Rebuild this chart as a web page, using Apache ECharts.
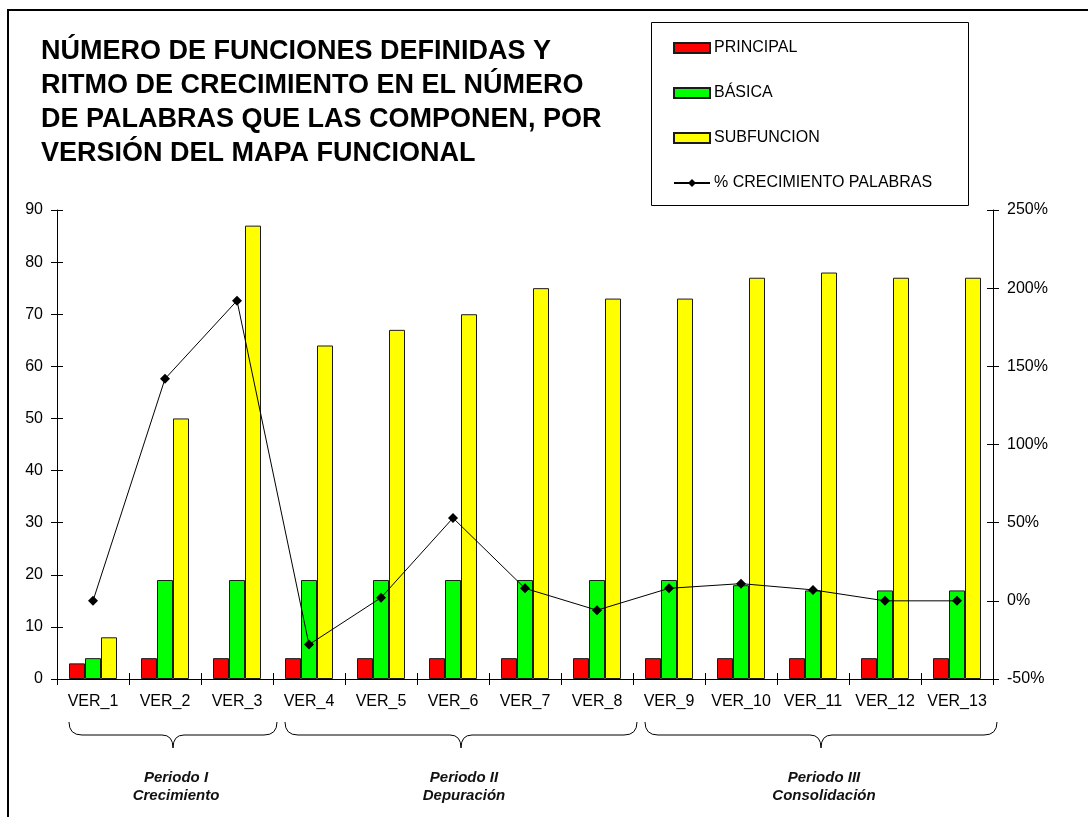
<!DOCTYPE html>
<html>
<head>
<meta charset="utf-8">
<script src="https://cdn.jsdelivr.net/npm/echarts@6/dist/echarts.min.js"></script>
<style>
  html, body { margin: 0; padding: 0; background: #ffffff; }
  #chart { width: 1088px; height: 817px; }
</style>
</head>
<body>
<div id="chart"></div>
<script>
// Versions of the functional map
const versions = ['VER_1', 'VER_2', 'VER_3', 'VER_4', 'VER_5', 'VER_6', 'VER_7',
                  'VER_8', 'VER_9', 'VER_10', 'VER_11', 'VER_12', 'VER_13'];

// Number of functions defined, by type
const principal  = [3, 4, 4, 4, 4, 4, 4, 4, 4, 4, 4, 4, 4];
const basica     = [4, 19, 19, 19, 19, 19, 19, 19, 19, 18, 17, 17, 17];
const subfuncion = [8, 50, 87, 64, 67, 70, 75, 73, 73, 77, 78, 77, 77];

// Growth rate (%) in the number of words
const crecimientoPalabras = [0, 142, 192, -28, 2, 53, 8, -6, 8, 11, 7, 0, 0];

// Axis scales
const countAxis = { min: 0, max: 90, interval: 10 };
const pctAxis = { min: -50, max: 250, interval: 50 };

// Periods grouping the versions
const periods = [
  { label: 'Periodo I',   phase: 'Crecimiento',   first: 0, last: 2 },
  { label: 'Periodo II',  phase: 'Depuración',    first: 3, last: 7 },
  { label: 'Periodo III', phase: 'Consolidación', first: 8, last: 12 }
];

const titleLines = [
  'NÚMERO DE FUNCIONES DEFINIDAS Y',
  'RITMO DE CRECIMIENTO EN EL NÚMERO',
  'DE PALABRAS QUE LAS COMPONEN, POR',
  'VERSIÓN DEL MAPA FUNCIONAL'
];

const FONT = '"Liberation Sans", Arial, Helvetica, sans-serif';
const INK = '#000000';
const BAR_EDGE = '#1a1a1a';

const chart = echarts.init(document.getElementById('chart'), null, { renderer: 'canvas' });

const tickOut = { show: true, inside: false, length: 6, lineStyle: { color: INK, width: 1 } };
const tickIn  = { show: true, inside: true,  length: 6, lineStyle: { color: INK, width: 1 } };
const axisLineStyle = { show: true, onZero: false, lineStyle: { color: INK, width: 1 } };

function barSeries(name, data, color) {
  return {
    name: name,
    type: 'bar',
    xAxisIndex: 0,
    yAxisIndex: 0,
    data: data,
    barGap: '0%',
    barCategoryGap: '33.3%',
    itemStyle: { color: color, borderColor: BAR_EDGE, borderWidth: 1 },
    emphasis: { disabled: true },
    z: 2
  };
}

chart.setOption({
  animation: false,
  backgroundColor: '#ffffff',
  textStyle: { fontFamily: FONT },
  title: {
    text: titleLines.join('\n'),
    left: 41,
    top: 35,
    padding: 0,
    textStyle: {
      fontFamily: FONT,
      fontSize: 27,
      fontWeight: 'bold',
      color: INK,
      lineHeight: 34
    }
  },
  legend: {
    orient: 'vertical',
    left: 673,
    top: 39,
    padding: 0,
    itemWidth: 36,
    itemHeight: 10,
    itemGap: 27,
    selectedMode: false,
    textStyle: { fontFamily: FONT, fontSize: 16, color: INK, lineHeight: 18, padding: [0, 0, 0, -1] },
    data: [
      { name: 'PRINCIPAL', icon: 'rect' },
      { name: 'BÁSICA', icon: 'rect' },
      { name: 'SUBFUNCION', icon: 'rect' },
      { name: '% CRECIMIENTO PALABRAS' }
    ]
  },
  grid: { left: 57, right: 95, top: 210, bottom: 138, containLabel: false },
  xAxis: [
    {
      type: 'category',
      data: versions,
      position: 'bottom',
      boundaryGap: true,
      axisLine: axisLineStyle,
      axisTick: tickOut,
      axisLabel: { fontFamily: FONT, fontSize: 16, color: INK, margin: 15, interval: 0 },
      splitLine: { show: false }
    },
    {
      type: 'category',
      data: versions,
      position: 'bottom',
      boundaryGap: true,
      axisLine: { show: false, onZero: false },
      axisTick: tickIn,
      axisLabel: { show: false },
      splitLine: { show: false }
    }
  ],
  yAxis: [
    {
      type: 'value',
      position: 'left',
      min: countAxis.min, max: countAxis.max, interval: countAxis.interval,
      axisLine: axisLineStyle,
      axisTick: tickOut,
      axisLabel: { fontFamily: FONT, fontSize: 16, color: INK, margin: 14 },
      splitLine: { show: false }
    },
    {
      type: 'value',
      position: 'right',
      min: pctAxis.min, max: pctAxis.max, interval: pctAxis.interval,
      axisLine: axisLineStyle,
      axisTick: tickOut,
      axisLabel: { fontFamily: FONT, fontSize: 16, color: INK, margin: 14, formatter: '{value}%' },
      splitLine: { show: false }
    },
    {
      type: 'value',
      position: 'left',
      min: countAxis.min, max: countAxis.max, interval: countAxis.interval,
      axisLine: { show: false, onZero: false },
      axisTick: tickIn,
      axisLabel: { show: false },
      splitLine: { show: false }
    },
    {
      type: 'value',
      position: 'right',
      min: pctAxis.min, max: pctAxis.max, interval: pctAxis.interval,
      axisLine: { show: false, onZero: false },
      axisTick: tickIn,
      axisLabel: { show: false },
      splitLine: { show: false }
    }
  ],
  series: [
    barSeries('PRINCIPAL', principal, '#ff0000'),
    barSeries('BÁSICA', basica, '#00ff00'),
    barSeries('SUBFUNCION', subfuncion, '#ffff00'),
    {
      name: '% CRECIMIENTO PALABRAS',
      type: 'line',
      xAxisIndex: 0,
      yAxisIndex: 1,
      data: crecimientoPalabras,
      symbol: 'diamond',
      symbolSize: 10,
      showSymbol: true,
      lineStyle: { color: INK, width: 1 },
      itemStyle: { color: INK, borderColor: INK, borderWidth: 0 },
      emphasis: { disabled: true },
      z: 5
    }
  ]
});

// Outer frame, legend box and the period braces below the category axis
function drawDecorations() {
  const px = (i) => chart.convertToPixel({ xAxisIndex: 0 }, i);
  const band = px(1) - px(0);
  const axisY = chart.convertToPixel({ yAxisIndex: 0 }, 0);
  const stroke = { stroke: INK, lineWidth: 1, fill: null };
  const els = [
    {
      type: 'rect',
      shape: { x: 8, y: 10, width: 1200, height: 1000 },
      style: { stroke: INK, lineWidth: 2, fill: null },
      silent: true, z: 10
    },
    {
      type: 'rect',
      shape: { x: 651.5, y: 22.5, width: 317, height: 183 },
      style: { stroke: INK, lineWidth: 1, fill: null },
      silent: true, z: 10
    }
  ];
  const top = axisY + 43, mid = axisY + 56, tip = axisY + 69;
  const r = 13, r2 = 11;
  periods.forEach((p) => {
    const x0 = px(p.first) - band / 2 + 12;
    const x1 = px(p.last) + band / 2 + 4;
    const cx = (x0 + x1) / 2;
    els.push(
      { type: 'bezierCurve', shape: { x1: x0, y1: top, cpx1: x0, cpy1: mid, x2: x0 + r, y2: mid }, style: stroke, silent: true },
      { type: 'line', shape: { x1: x0 + r, y1: mid, x2: cx - r2, y2: mid }, style: stroke, silent: true },
      { type: 'bezierCurve', shape: { x1: cx - r2, y1: mid, cpx1: cx, cpy1: mid, x2: cx, y2: tip }, style: stroke, silent: true },
      { type: 'bezierCurve', shape: { x1: cx, y1: tip, cpx1: cx, cpy1: mid, x2: cx + r2, y2: mid }, style: stroke, silent: true },
      { type: 'line', shape: { x1: cx + r2, y1: mid, x2: x1 - r, y2: mid }, style: stroke, silent: true },
      { type: 'bezierCurve', shape: { x1: x1 - r, y1: mid, cpx1: x1, cpy1: mid, x2: x1, y2: top }, style: stroke, silent: true },
      {
        type: 'text',
        x: cx + 3, y: axisY + 108,
        style: {
          text: p.label + '\n' + p.phase,
          fontFamily: FONT, fontSize: 15, fontWeight: 'bold', fontStyle: 'italic',
          fill: '#111111', align: 'center', verticalAlign: 'middle', lineHeight: 18
        },
        silent: true
      }
    );
  });
  chart.setOption({ graphic: els });
}
drawDecorations();
</script>
</body>
</html>
